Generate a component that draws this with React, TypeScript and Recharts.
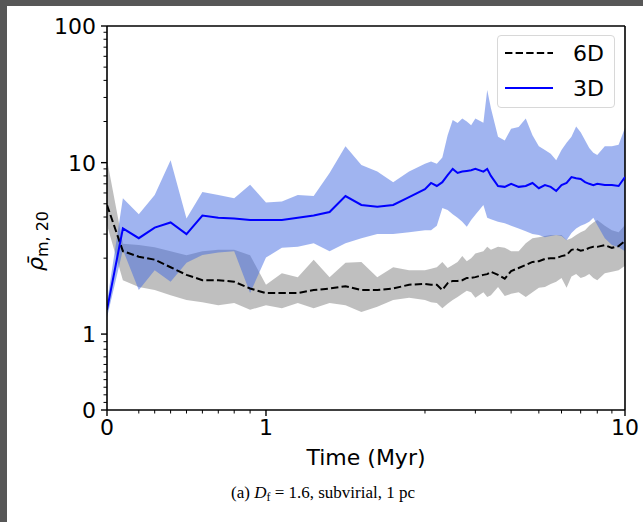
import React from 'react';
import { ComposedChart, Area, Line, XAxis, YAxis, ReferenceLine, Legend } from 'recharts';

// Time (Myr)
const times = [
  0, 0.1, 0.2, 0.3, 0.4, 0.5, 0.6, 0.7, 0.8, 0.9,
  1.0, 1.1, 1.2, 1.3, 1.4, 1.5, 1.6, 1.7, 1.8, 1.9,
  2.0, 2.1, 2.2, 2.3, 2.4, 2.5, 2.6, 2.7, 2.8, 2.9,
  3.0, 3.2, 3.3, 3.4, 3.6, 3.8,
  4.0, 4.25, 4.5, 4.75,
  5.0, 5.25, 5.5, 5.75,
  6.0, 6.25, 6.5, 6.75,
  7.0, 7.25, 7.5, 7.75,
  8.0, 8.5, 9.0, 9.5, 10,
];

// 6D: median + spread
const mean6D = [
  4.9, 2.25, 2.05, 1.98, 1.88, 1.78, 1.71, 1.71, 1.69, 1.6,
  1.54, 1.54, 1.54, 1.58, 1.6, 1.63, 1.58, 1.58, 1.6, 1.65,
  1.66, 1.65, 1.65, 1.58, 1.67, 1.7, 1.7, 1.71, 1.74, 1.74,
  1.75, 1.78, 1.79, 1.82, 1.78, 1.73,
  1.83, 1.87, 1.91, 1.95,
  1.96, 1.99, 2.0, 2.0,
  2.07, 2.11, 2.3, 2.34,
  2.27, 2.3, 2.38, 2.42,
  2.42, 2.49, 2.38, 2.45, 2.67,
];
const low6D = [
  3.5, 1.71, 1.62, 1.58, 1.51, 1.45, 1.42, 1.38, 1.41, 1.32,
  1.38, 1.34, 1.41, 1.34, 1.41, 1.38, 1.29, 1.36, 1.45, 1.48,
  1.45, 1.42, 1.41, 1.34, 1.4, 1.45, 1.49, 1.53, 1.57, 1.55,
  1.48, 1.55, 1.49, 1.51, 1.62, 1.5,
  1.53, 1.55, 1.49, 1.55,
  1.61, 1.62, 1.66, 1.69,
  1.74, 1.61, 1.76, 1.79,
  1.74, 1.76, 1.79, 1.74,
  1.71, 1.8, 1.82, 1.84, 1.9,
];
const high6D = [
  10.5, 2.55, 2.5, 2.4, 2.25, 2.1, 2.25, 2.3, 2.3, 2.1,
  1.65, 1.8, 1.75, 1.98, 1.75, 1.94, 1.95, 1.75, 1.88, 1.84,
  1.84, 1.86, 1.88, 1.95, 1.87, 1.91, 1.95, 2.07, 1.96, 2.0,
  2.16, 2.25, 2.42, 2.3, 2.42, 2.38,
  2.25, 2.25, 2.57, 2.8,
  2.85, 2.9, 2.95, 2.95,
  2.95, 2.72, 2.8, 2.95,
  3.1, 3.2, 3.45, 3.65,
  3.8, 3.45, 3.2, 3.1, 3.5,
];

// 3D: median + spread
const mean3D = [
  1.32, 3.3, 2.8, 3.35, 3.65, 3.0, 4.1, 3.95, 3.9, 3.8,
  3.8, 3.8, 3.95, 4.1, 4.35, 5.7, 4.9, 4.75, 4.9, 5.6,
  6.4, 7.1, 6.75, 7.2, 8.1, 9.0, 8.4, 8.6, 8.7, 8.8,
  9.0, 8.6, 9.0, 8.0, 6.75, 6.65,
  7.0, 6.65, 6.75, 7.1,
  6.5, 6.85, 6.65, 6.2,
  6.85, 7.1, 7.85, 7.7,
  7.6, 7.2, 7.0, 6.85,
  7.0, 6.85, 6.85, 6.75, 7.85,
];
const low3D = [
  1.22, 2.3, 1.58, 1.84, 1.69, 1.94, 2.11, 2.2, 2.25, 1.54,
  2.02, 2.38, 2.42, 2.57, 2.25, 2.57, 2.8, 3.0, 3.0, 3.1,
  3.2, 3.2, 3.45, 4.65, 4.5, 4.2, 3.95, 3.7, 3.4, 3.8,
  4.15, 4.9, 3.95, 3.85, 3.7, 3.6,
  3.45, 3.3, 3.15, 3.0,
  2.95, 2.85, 2.9, 2.95,
  2.9, 2.7, 3.05, 3.3,
  3.45, 3.55, 3.7, 3.95,
  3.5, 2.8, 2.5, 2.4, 2.25,
];
const high3D = [
  1.42, 5.5, 4.2, 5.8, 10.4, 3.9, 6.1, 5.8, 5.5, 6.9,
  5.1, 5.2, 5.8, 5.7, 8.4, 13.2, 9.6, 8.6, 7.2, 8.6,
  9.8, 10.2, 9.8, 10.9, 15.9, 20.5, 19.5, 21, 20, 18.8,
  21, 19.6, 34, 25, 15.5, 14.5,
  17.7, 18.2, 21, 15.9,
  13.2, 12.4, 11.6, 10.4,
  12.4, 14, 15.5, 18.4,
  16.7, 14.6, 12.8, 11.8,
  11.4, 13.2, 13.2, 13.5, 18,
];

const xMajorTicks = [0, 1, 10];
const xMinorTicks = [0.2, 0.3, 0.4, 0.5, 0.6, 0.7, 0.8, 0.9, 2, 3, 4, 5, 6, 7, 8, 9];
const yMajorTicks = [0, 1, 10, 100];
const yMinorTicks = [
  0.1, 0.2, 0.3, 0.4, 0.5, 0.6, 0.7, 0.8, 0.9,
  2, 3, 4, 5, 6, 7, 8, 9,
  20, 30, 40, 50, 60, 70, 80, 90,
];

// matplotlib style symlog (linthresh 2, linscale 1) done by hand, recharts has no symlog scale
const LINTHRESH = 2;
const LINSCALE = 1 / (1 - 1 / 10);
const symlog = (v: number) =>
  v <= LINTHRESH ? v * LINSCALE : LINTHRESH * (LINSCALE + Math.log10(v / LINTHRESH));

const X_MAX = symlog(10);
const Y_MAX = symlog(100);

const key = (v: number) => v.toFixed(5);
const xLabels = new Map(xMajorTicks.map((v) => [key(symlog(v)), String(v)]));
const yLabels = new Map(yMajorTicks.map((v) => [key(symlog(v)), String(v)]));
const xTicks = [...xMajorTicks, ...xMinorTicks].map(symlog);
const yTicks = [...yMajorTicks, ...yMinorTicks].map(symlog);

const data = times.map((t, i) => ({
  t: symlog(t),
  m6: symlog(mean6D[i]),
  band6: [symlog(low6D[i]), symlog(high6D[i])],
  m3: symlog(mean3D[i]),
  band3: [symlog(low3D[i]), symlog(high3D[i])],
}));

const FONT = '"DejaVu Sans", sans-serif';
const BLUE = '#0000ff';

function XTick({ x, y, payload }: any) {
  const label = xLabels.get(key(payload.value));
  const major = label !== undefined;
  return (
    <g>
      <line x1={x} x2={x} y1={y} y2={y + (major ? 6 : 3.5)} stroke="#000" strokeWidth={major ? 1.4 : 1} />
      {major && (
        <text x={x} y={y + 25} textAnchor="middle" fontSize={22} fontFamily={FONT} fill="#000">
          {label}
        </text>
      )}
    </g>
  );
}

function YTick({ x, y, payload }: any) {
  const label = yLabels.get(key(payload.value));
  const major = label !== undefined;
  const len = major ? 6 : 3.5;
  return (
    <g>
      <line x1={x - len} x2={x} y1={y} y2={y} stroke="#000" strokeWidth={major ? 1.4 : 1} />
      {major && (
        <text x={x - len - 5} y={y + 8} textAnchor="end" fontSize={22} fontFamily={FONT} fill="#000">
          {label}
        </text>
      )}
    </g>
  );
}

function XTitle() {
  return (
    <text x={366} y={465} textAnchor="middle" fontSize={22} fontFamily={FONT} fill="#000">
      Time (Myr)
    </text>
  );
}

function YTitle() {
  return (
    <text transform="translate(43,241) rotate(-90)" textAnchor="middle" fontSize={22} fontFamily={FONT} fill="#000">
      <tspan fontStyle="italic">ρ̄</tspan>
      <tspan fontSize={16} dy={5}>m, 20</tspan>
    </text>
  );
}

function LegendBox() {
  return (
    <div
      style={{
        width: 118,
        height: 73,
        boxSizing: 'border-box',
        border: '1px solid #d8d8d8',
        borderRadius: 4,
        background: 'rgba(255,255,255,0.85)',
      }}
    >
      <svg width={116} height={71} style={{ display: 'block' }}>
        <line x1={7} x2={55} y1={17} y2={17} stroke="#000" strokeWidth={2} strokeDasharray="7.4 3.2" />
        <text x={75} y={25} fontSize={22} fontFamily={FONT} fill="#000">6D</text>
        <line x1={7} x2={55} y1={52} y2={52} stroke={BLUE} strokeWidth={2} />
        <text x={75} y={60} fontSize={22} fontFamily={FONT} fill="#000">3D</text>
      </svg>
    </div>
  );
}

export default function App() {
  return (
    <div style={{ position: 'absolute', left: 0, top: 0, width: 643, height: 522, background: '#fff', overflow: 'hidden' }}>
      <div style={{ position: 'absolute', left: 0, top: 0, width: 7, height: 522, background: '#575757' }} />
      <div style={{ position: 'absolute', left: 0, top: 0, width: 643, height: 6, background: '#575757' }} />
      <div style={{ position: 'absolute', left: 0, top: 0 }}>
        <ComposedChart width={643} height={522} data={data} margin={{ top: 26, right: 18, bottom: 82, left: 0 }}>
          <XAxis
            type="number"
            dataKey="t"
            domain={[0, X_MAX]}
            allowDataOverflow
            ticks={xTicks}
            interval={0}
            tickSize={0}
            tickMargin={0}
            tickLine={false}
            tick={<XTick />}
            axisLine={{ stroke: '#000', strokeWidth: 1.6 }}
            height={30}
            label={<XTitle />}
          />
          <YAxis
            type="number"
            domain={[0, Y_MAX]}
            allowDataOverflow
            ticks={yTicks}
            interval={0}
            tickSize={0}
            tickMargin={0}
            tickLine={false}
            tick={<YTick />}
            axisLine={{ stroke: '#000', strokeWidth: 1.6 }}
            width={107}
            label={<YTitle />}
          />
          <ReferenceLine y={Y_MAX} stroke="#000" strokeWidth={1.6} />
          <ReferenceLine x={X_MAX} stroke="#000" strokeWidth={1.6} />

          <Area type="linear" dataKey="band6" stroke="none" fill="#808080" fillOpacity={0.5} isAnimationActive={false} />
          <Area type="linear" dataKey="band3" stroke="none" fill="#4169e1" fillOpacity={0.5} isAnimationActive={false} />
          <Line
            type="linear"
            dataKey="m6"
            stroke="#000"
            strokeWidth={2}
            strokeDasharray="7.4 3.2"
            dot={false}
            activeDot={false}
            isAnimationActive={false}
          />
          <Line
            type="linear"
            dataKey="m3"
            stroke={BLUE}
            strokeWidth={2}
            dot={false}
            activeDot={false}
            isAnimationActive={false}
          />
          <Legend
            layout="vertical"
            align="center"
            verticalAlign="middle"
            wrapperStyle={{ left: 497, top: 35, width: 118, height: 73 }}
            content={() => <LegendBox />}
          />
        </ComposedChart>
      </div>
      <svg width={643} height={52} style={{ position: 'absolute', left: 0, top: 470 }}>
        <text x={231} y={28} fontSize={17} fontFamily='"Liberation Serif", serif' fill="#000">
          {'(a) '}
          <tspan fontStyle="italic">D</tspan>
          <tspan fontSize={12} dy={3}>f</tspan>
          <tspan dy={-3}>{' = 1.6, subvirial, 1 pc'}</tspan>
        </text>
      </svg>
    </div>
  );
}
